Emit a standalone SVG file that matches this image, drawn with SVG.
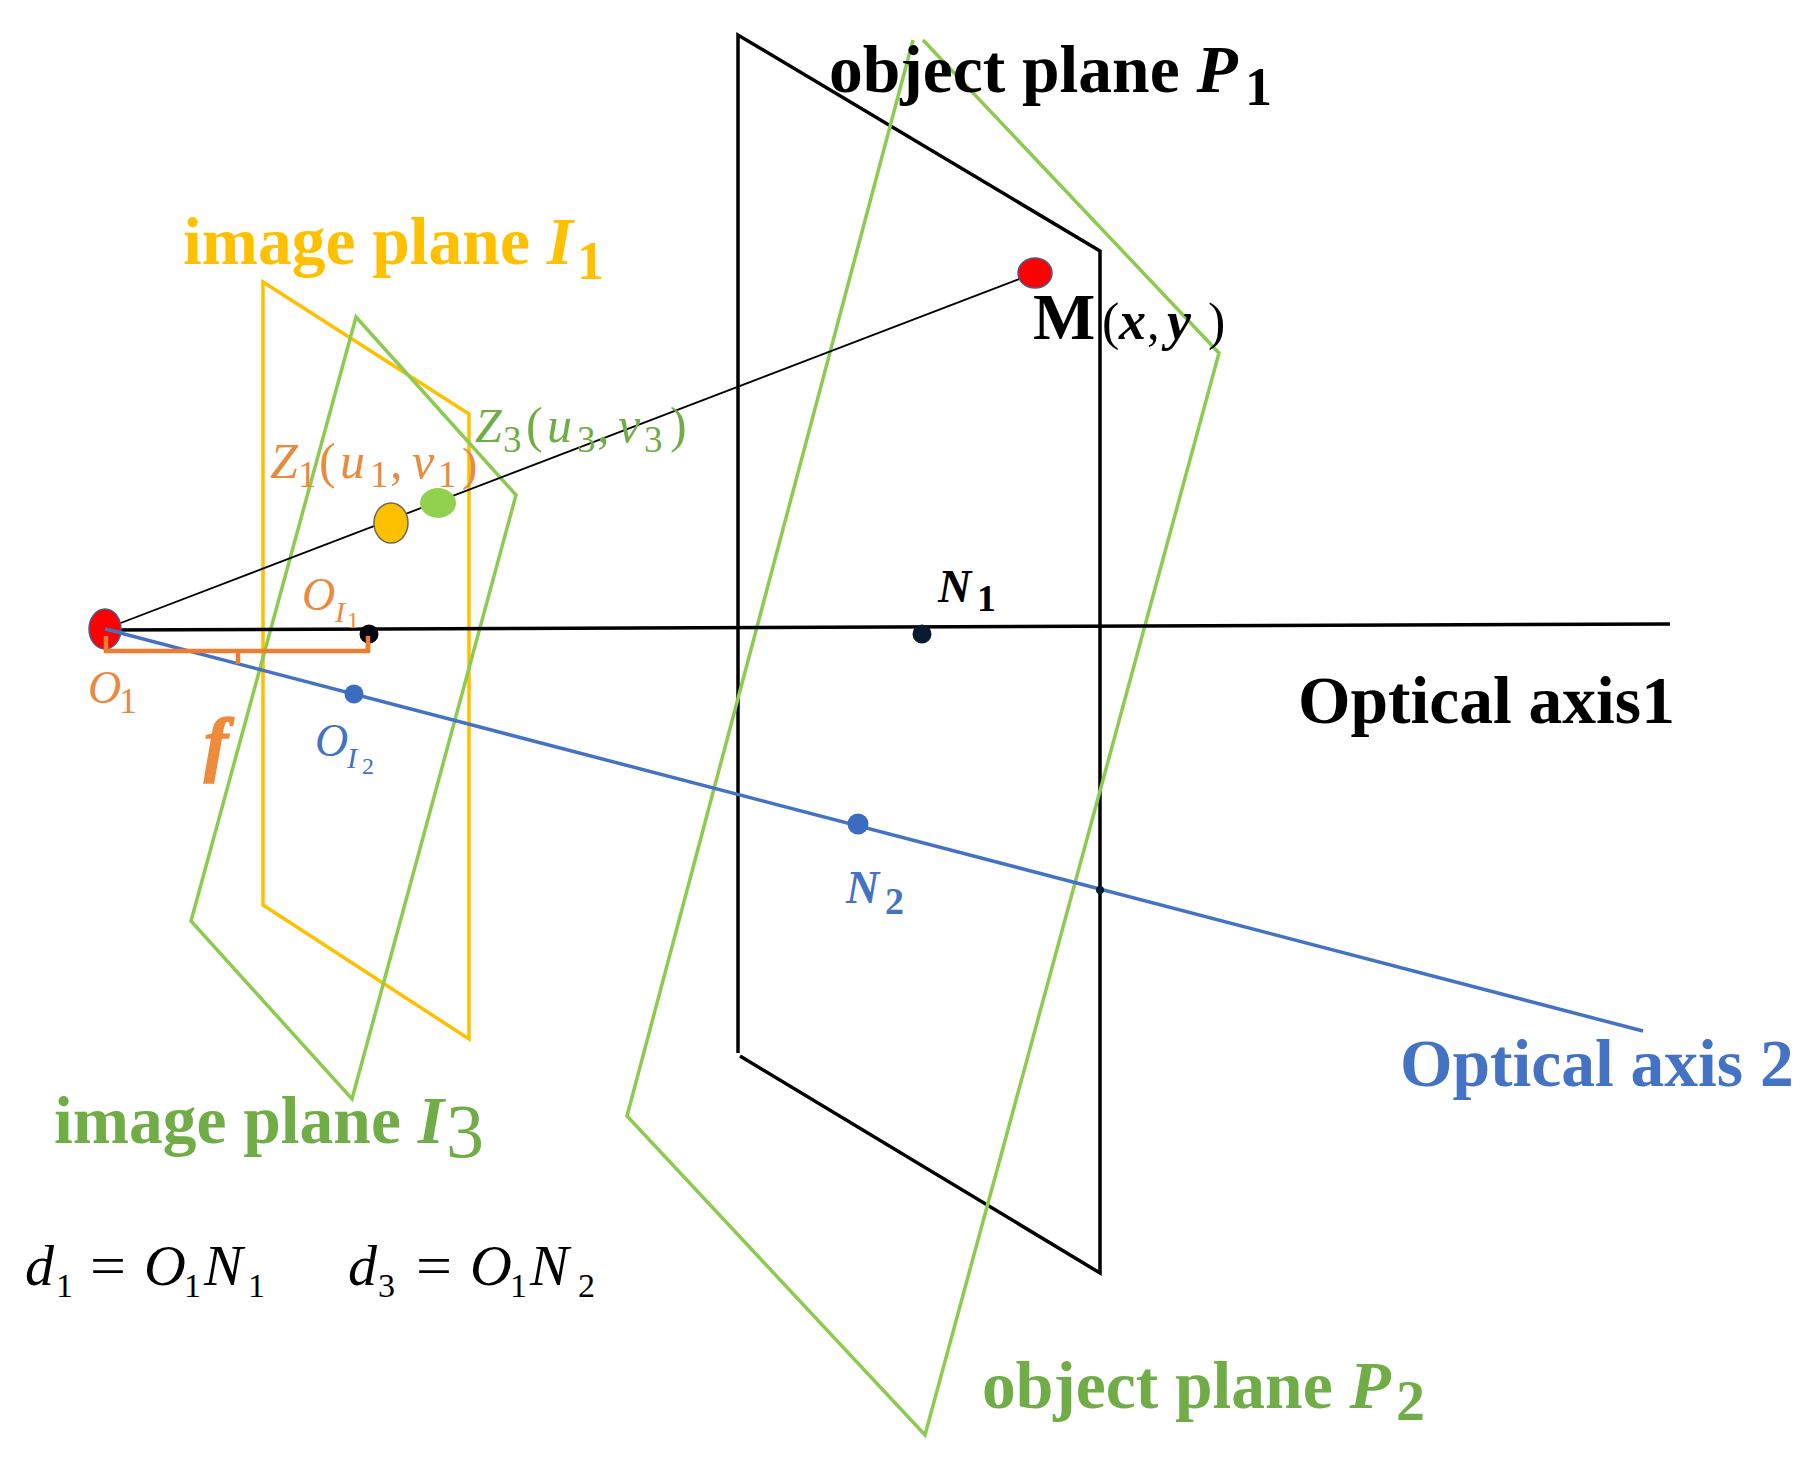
<svg xmlns="http://www.w3.org/2000/svg" width="1814" height="1457" viewBox="0 0 1814 1457">
<style>
.pl{fill:none;stroke-linejoin:miter}
.g{stroke:#8CCB50;stroke-width:3.5}
.y{stroke:#FFC000;stroke-width:3.5}
.k{stroke:#000;stroke-width:3.5}
text{font-family:"Liberation Serif",serif}
.b{font-weight:bold}
.i{font-style:italic}
.bi{font-weight:bold;font-style:italic}
.cG{fill:#70AD47}.cY{fill:#FFC000}.cO{fill:#E98A3F}.cB{fill:#4472C4}.cK{fill:#000}
.big{font-size:67.5px}
.m{font-size:50px}.ms{font-size:37px}
</style>
<rect width="1814" height="1457" fill="#fff"/>
<g id="connectors">
<path id="plane-P1" class="pl k" d="M738 1053V35L1100 251V1273L740 1056"/>
<path id="plane-P2" class="pl g" d="M913 40L627 1116L925 1435L1219 353L923 40"/>
<path id="plane-I1" class="pl y" d="M263 905V282L469 414V1039Z"/>
<path id="plane-I3" class="pl g" d="M356 317L516 495L352 1099L191 921Z"/>
<line id="ray" x1="105" y1="629" x2="1035" y2="273" stroke="#000" stroke-width="1.8"/>
<line id="axis1" x1="105" y1="630" x2="1670" y2="624" stroke="#000" stroke-width="3.5"/>
<line id="axis2" x1="105" y1="629" x2="1643" y2="1031" stroke="#4472C4" stroke-width="3.5"/>
<path id="f-bracket" fill="none" stroke="#ED7D31" stroke-width="4.5" d="M106 636V651H368V636M238 651V664"/>
</g>
<g id="node-O1"><ellipse cx="105" cy="629" rx="16" ry="20" fill="#F00" stroke="#4A5C8C" stroke-width="1.5"/><path fill="none" stroke="#ED7D31" stroke-width="4.5" d="M106 636V651"/><line x1="105" y1="629" x2="122" y2="633" stroke="#4472C4" stroke-width="3.5"/>
<text x="88" y="703" font-size="46" class="i cO">O</text><text x="119" y="713" font-size="36" class="cO">1</text></g>
<g id="node-M"><ellipse cx="1035" cy="273" rx="17" ry="15" fill="#F00" stroke="#4A5C8C" stroke-width="1.5"/>
<text x="1033" y="339" font-size="66" class="b cK">M</text><text x="1102" y="339" font-size="52" class="cK">(</text><text x="1119" y="339" font-size="54" class="bi cK">x</text><text x="1147" y="339" font-size="50" class="cK">,</text><text x="1167" y="339" font-size="54" class="bi cK">y</text><text x="1208" y="339" font-size="52" class="cK">)</text></g>
<g id="node-Z1"><ellipse cx="391" cy="523" rx="17" ry="20" fill="#FFC000" stroke="#6A6A5A" stroke-width="1.5"/>
<text x="270" y="478" class="m i cO">Z</text><text x="298" y="487" class="ms cO">1</text><text x="319" y="478" class="m cO">(</text><text x="340" y="478" class="m i cO">u</text><text x="370" y="487" class="ms cO">1</text><text x="390" y="478" class="m cO">,</text><text x="412" y="478" class="m i cO">v</text><text x="438" y="487" class="ms cO">1</text><text x="462" y="480" font-size="46" class="cO">)</text></g>
<g id="node-Z3"><ellipse cx="438" cy="503" rx="18" ry="15" fill="#92D050"/>
<text x="475" y="442" font-size="48" class="i cG">Z</text><text x="503" y="452" class="ms cG">3</text><text x="526" y="442" class="m cG">(</text><text x="547" y="442" class="m i cG">u</text><text x="577" y="452" class="ms cG">3</text><text x="597" y="442" class="m cG">,</text><text x="618" y="442" class="m i cG">v</text><text x="644" y="452" class="ms cG">3</text><text x="670" y="442" class="m cG">)</text></g>
<g id="node-OI1"><circle cx="369" cy="634" r="9.5" fill="#050510"/><path fill="none" stroke="#ED7D31" stroke-width="4.5" d="M368 636V651"/>
<text x="302" y="610" font-size="46" class="i cO">O</text><text x="335" y="622" font-size="30" class="i cO">I</text><text x="347" y="628" font-size="24" class="cO">1</text></g>
<g id="node-OI2"><circle cx="354" cy="694" r="9.5" fill="#3A6CC0"/>
<text x="315" y="756" font-size="46" class="i cB">O</text><text x="347" y="768" font-size="30" class="i cB">I</text><text x="362" y="774" font-size="24" class="cB">2</text></g>
<g id="node-N1"><circle cx="922" cy="634" r="9.5" fill="#0A1A30"/><text x="938" y="602" font-size="46" class="bi cK">N</text><text x="977" y="611" font-size="38" class="b cK">1</text></g>
<g id="node-N2"><circle cx="858" cy="824" r="10.5" fill="#3A6CC0"/><text x="846" y="903" font-size="46" class="bi cB">N</text><text x="885" y="914" font-size="38" class="b cB">2</text></g>
<circle id="node-cross" cx="1100" cy="890" r="4" fill="#0A1A30"/>
<text id="label-f" x="204" y="768" font-size="72" class="bi" fill="#ED8B3A" stroke="#ED8B3A" stroke-width="1.5">f</text>
<text id="label-p1" x="829" y="92" class="big b cK">object plane <tspan class="bi">P</tspan></text><text x="1245" y="105" font-size="54" class="b cK">1</text>
<text id="label-i1" x="183" y="264" class="big b cY">image plane <tspan class="bi">I</tspan></text><text x="577" y="279" font-size="54" class="b cY">1</text>
<text id="label-i3" x="54" y="1143" class="big b cG">image plane <tspan class="bi">I</tspan></text><text x="446" y="1157" font-size="76" class="cG">3</text>
<text id="label-p2" x="982" y="1408" class="big b cG">object plane <tspan class="bi">P</tspan></text><text x="1396" y="1420" font-size="58" class="b cG">2</text>
<text id="label-axis1" x="1298" y="723" class="big b cK">Optical axis1</text>
<text id="label-axis2" x="1400" y="1086" class="big b cB">Optical axis 2</text>
<g id="equations" class="cK">
<text x="25" y="1285" font-size="58" class="i">d</text><text x="56" y="1297" font-size="34">1</text><text x="90" y="1285" font-size="58" textLength="36" lengthAdjust="spacingAndGlyphs">=</text><text x="144" y="1285" font-size="58" class="i">O</text><text x="184" y="1297" font-size="34">1</text><text x="204" y="1285" font-size="58" class="i">N</text><text x="248" y="1297" font-size="34">1</text>
<text x="348" y="1285" font-size="58" class="i">d</text><text x="378" y="1297" font-size="34">3</text><text x="416" y="1285" font-size="58" textLength="36" lengthAdjust="spacingAndGlyphs">=</text><text x="470" y="1285" font-size="58" class="i">O</text><text x="510" y="1297" font-size="34">1</text><text x="530" y="1285" font-size="58" class="i">N</text><text x="578" y="1297" font-size="34">2</text>
</g>
</svg>
